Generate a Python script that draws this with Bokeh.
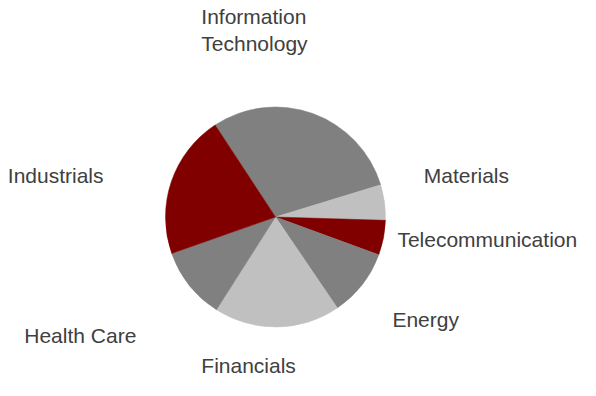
import numpy as np
from bokeh.plotting import figure
from bokeh.models import ColumnDataSource, Range1d
from bokeh.embed import file_html
from bokeh.resources import INLINE
from bokeh.core.properties import value

# ---- data ----
categories = ["Information\nTechnology", "Materials", "Telecommunication",
              "Energy", "Financials", "Health Care", "Industrials"]
shares = [29.5, 5.2, 5.1, 9.9, 18.5, 10.6, 21.1]
colors = ["#808080", "#c0c0c0", "#800000", "#808080",
          "#c0c0c0", "#808080", "#800000"]

# ---- layout ----
W, H = 580, 380
cx, cy, radius = 275, 163.5, 110
start_deg = 123.3
label_r = 165
label_dx = [-130.2, -15.2, -40.1, -13.2, -76.7, -122.0, -111.4]
label_dy = [31.7, 19.3, 8.9, -1.0, 16.2, -15.8, -11.1]

frac = np.array(shares) / sum(shares)
cum = np.concatenate([[0.0], np.cumsum(frac)])
a_start = np.radians(start_deg) - cum[:-1] * 2 * np.pi
a_end = np.radians(start_deg) - cum[1:] * 2 * np.pi
mid = (a_start + a_end) / 2

src = ColumnDataSource(dict(
    a0=a_end, a1=a_start, color=colors,
))
lab = ColumnDataSource(dict(
    x=cx + label_r * np.cos(mid) + np.array(label_dx),
    y=cy + label_r * np.sin(mid) + np.array(label_dy),
    text=categories,
))

p = figure(width=W, height=H, output_backend="svg", toolbar_location=None,
           x_range=Range1d(0, W), y_range=Range1d(0, H),
           min_border=0, outline_line_color=None)
p.axis.visible = False
p.grid.visible = False
p.background_fill_color = "white"
p.border_fill_color = "white"

p.wedge(x=cx, y=cy, radius=radius, start_angle="a0", end_angle="a1",
        direction="anticlock", fill_color="color", line_color="color",
        line_width=0.5, source=src)

p.text(x="x", y="y", text="text", source=lab,
       text_font=value("Liberation Sans"), text_font_size="21px",
       text_color="#404040", text_align="left", text_baseline="alphabetic",
       text_line_height=1.2)

open("out.html", "w").write(file_html(p, INLINE))
